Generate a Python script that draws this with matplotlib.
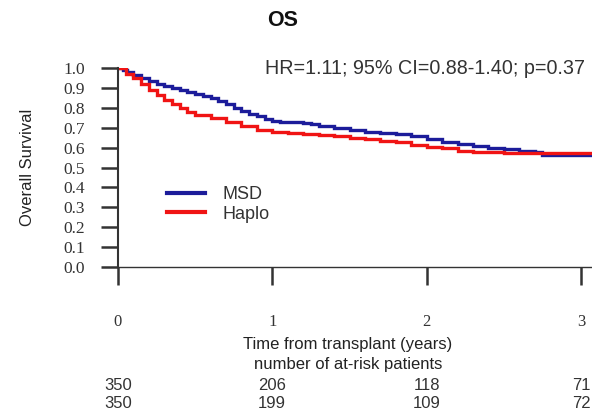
import matplotlib
matplotlib.use("Agg")
import matplotlib.pyplot as plt
from matplotlib.lines import Line2D

# ---- data ----
msd_t = [0, 0.03, 0.06, 0.10, 0.15, 0.20, 0.25, 0.30, 0.35, 0.40, 0.45, 0.50, 0.55,
         0.60, 0.65, 0.70, 0.75, 0.80, 0.85, 0.90, 0.95, 1.00, 1.05, 1.20, 1.25, 1.30,
         1.40, 1.50, 1.60, 1.70, 1.80, 1.90, 2.00, 2.10, 2.20, 2.30, 2.40, 2.50, 2.60,
         2.70, 2.75, 3.10]
msd_s = [1.0, 0.99, 0.98, 0.965, 0.95, 0.935, 0.92, 0.91, 0.90, 0.89, 0.88, 0.87, 0.86,
         0.85, 0.835, 0.82, 0.80, 0.785, 0.77, 0.76, 0.745, 0.735, 0.73, 0.725, 0.72, 0.71,
         0.70, 0.69, 0.68, 0.675, 0.67, 0.66, 0.645, 0.63, 0.62, 0.61, 0.60, 0.595, 0.585,
         0.58, 0.565, 0.565]
haplo_t = [0, 0.05, 0.10, 0.15, 0.20, 0.25, 0.30, 0.35, 0.40, 0.45, 0.50, 0.60, 0.70,
           0.80, 0.90, 1.00, 1.10, 1.20, 1.30, 1.40, 1.50, 1.60, 1.70, 1.80, 1.90, 2.00,
           2.10, 2.20, 2.30, 2.50, 3.10]
haplo_s = [1.0, 0.97, 0.95, 0.92, 0.89, 0.865, 0.84, 0.82, 0.80, 0.78, 0.765, 0.75, 0.73,
           0.71, 0.69, 0.68, 0.675, 0.668, 0.663, 0.658, 0.65, 0.645, 0.635, 0.628, 0.615,
           0.605, 0.60, 0.585, 0.578, 0.575, 0.575]

x_ticks = [0, 1, 2, 3]
y_ticks = [0.0, 0.1, 0.2, 0.3, 0.4, 0.5, 0.6, 0.7, 0.8, 0.9, 1.0]
risk_msd = [350, 206, 118, 71]
risk_haplo = [350, 199, 109, 72]
series_names = ["MSD", "Haplo"]
title = "OS"
stats_text = "HR=1.11; 95% CI=0.88-1.40; p=0.37"

BLUE = "#1c1c9a"
RED = "#f01414"
GRAY = "#333333"

W, H = 592, 416
fig = plt.figure(figsize=(W / 100, H / 100), dpi=100)

def fx(px):
    return px / W

def fy(py):
    return 1 - py / H

ax = fig.add_axes([fx(118), fy(267), fx(592) - fx(118), fy(68) - fy(267)])
ax.set_xlim(0, (592 - 118) / ((581 - 118) / 3))
ax.set_ylim(0, 1)

ax.step(msd_t, msd_s, where="post", color=BLUE, lw=2.4, solid_joinstyle="miter")
ax.step(haplo_t, haplo_s, where="post", color=RED, lw=2.4, solid_joinstyle="miter")

for s in ["top", "right"]:
    ax.spines[s].set_visible(False)
ax.spines["left"].set_linewidth(1.5)
ax.spines["left"].set_color(GRAY)
ax.spines["bottom"].set_linewidth(1.0)
ax.spines["bottom"].set_color(GRAY)

ax.set_xticks(x_ticks)
ax.set_xticklabels([str(v) for v in x_ticks], family="Liberation Serif", fontsize=12, color=GRAY)
ax.set_yticks(y_ticks)
ax.set_yticklabels([f"{v:.1f}" for v in y_ticks], family="Liberation Serif", fontsize=12.5, color=GRAY)
ax.tick_params(axis="x", direction="out", length=13, width=1.8, color=GRAY, pad=21)
ax.tick_params(axis="y", direction="out", length=12.5, width=1.8, color=GRAY, pad=11)

ax.set_ylabel("Overall Survival", family="Liberation Sans", fontsize=12, color="#222222")
ax.yaxis.set_label_coords((35 - 118) / (592 - 118), 0.5)

fig.text(fx(283), fy(20), title, ha="center", va="center", fontsize=15.5,
         fontweight="bold", family="Liberation Sans", color="#111111")
fig.text(fx(265), fy(68), stats_text, ha="left", va="center", fontsize=14.2,
         family="Liberation Sans", color="#333333")

handles = [Line2D([], [], color=BLUE, lw=3), Line2D([], [], color=RED, lw=3)]
fig.legend(handles, series_names, loc="upper left", bbox_to_anchor=(fx(158), fy(177)),
           frameon=False, prop={"family": "Liberation Sans", "size": 13},
           handlelength=2.1, handletextpad=1.0, labelspacing=0.15, borderpad=0,
           labelcolor="#333333")

fig.text(fx(348), fy(345), "Time from transplant (years)", ha="center", va="center",
         fontsize=12, family="Liberation Sans", color="#222222")
fig.text(fx(348), fy(365), "number of at-risk patients", ha="center", va="center",
         fontsize=12, family="Liberation Sans", color="#222222")

tick_px = [118, 272, 427, 581]
for xp, a, b in zip(tick_px, risk_msd, risk_haplo):
    fig.text(fx(xp), fy(385), str(a), ha="center", va="center", fontsize=12,
             family="Liberation Sans", color="#333333")
    fig.text(fx(xp), fy(403), str(b), ha="center", va="center", fontsize=12,
             family="Liberation Sans", color="#333333")

fig.savefig("out.png", dpi=100)
